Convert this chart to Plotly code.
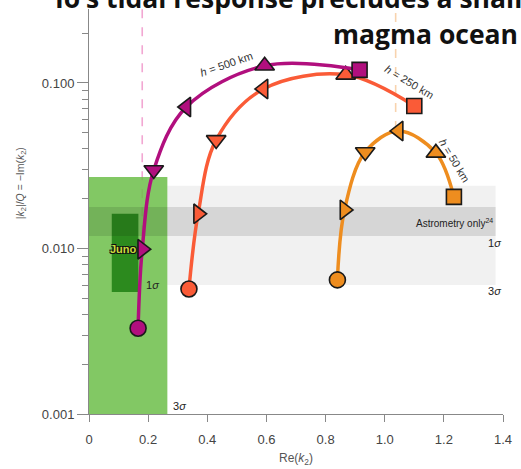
import math
import plotly.graph_objects as go

# ---- data ----
symbols = ["circle", "triangle-right", "triangle-down", "triangle-left", "triangle-up", "square"]

h500_re = [0.166, 0.180, 0.219, 0.329, 0.594, 0.915]
h500_im = [0.0033, 0.0099, 0.0298, 0.0716, 0.127, 0.120]

h250_re = [0.338, 0.369, 0.430, 0.590, 0.868, 1.100]
h250_im = [0.00569, 0.0162, 0.0453, 0.092, 0.112, 0.0726]

h50_re = [0.840, 0.864, 0.934, 1.047, 1.173, 1.234]
h50_im = [0.00646, 0.0171, 0.0383, 0.0513, 0.0378, 0.0205]

# Juno constraints (Re range, Im range)
juno_3s_re = [0.0, 0.265]
juno_3s_im = [0.001, 0.027]
juno_1s_re = [0.077, 0.167]
juno_1s_im = [0.00546, 0.0162]

# astrometry-only constraints (Im range)
astro_3s_im = [0.00602, 0.0239]
astro_1s_im = [0.0119, 0.0178]
astro_re_max = 1.375

# reference lines (Re)
pink_line_re = 0.180
orange_line_re = 1.037

x_ticks = [0, 0.2, 0.4, 0.6, 0.8, 1.0, 1.2, 1.4]
x_ticktext = ["0", "0.2", "0.4", "0.6", "0.8", "1.0", "1.2", "1.4"]
y_ticks = [0.001, 0.01, 0.1]
y_ticktext = ["0.001", "0.010", "0.100"]
y_minor = [m * 10 ** e for e in (-3, -2, -1) for m in range(2, 10)]

C500 = "#B10F7E"
C250 = "#FA5B37"
C50 = "#EE8D1F"

fig = go.Figure()

shapes = []
# dashed reference lines (under green)
shapes.append(dict(type="line", xref="x", yref="y", x0=pink_line_re, x1=pink_line_re,
                   y0=0.0095, y1=0.28, line=dict(color="#F2A7D2", width=1.6, dash="dash"), layer="below"))
shapes.append(dict(type="line", xref="x", yref="y", x0=orange_line_re, x1=orange_line_re,
                   y0=0.052, y1=0.28, line=dict(color="#F8D3AE", width=1.6, dash="dash"), layer="below"))
# Juno boxes
shapes.append(dict(type="rect", xref="x", yref="y", x0=juno_3s_re[0], x1=juno_3s_re[1],
                   y0=juno_3s_im[0], y1=juno_3s_im[1], fillcolor="rgba(108,190,73,0.85)",
                   line=dict(width=0), layer="below"))
shapes.append(dict(type="rect", xref="x", yref="y", x0=juno_1s_re[0], x1=juno_1s_re[1],
                   y0=juno_1s_im[0], y1=juno_1s_im[1], fillcolor="#2C8A1E",
                   line=dict(width=0), layer="below"))
# astrometry bands
shapes.append(dict(type="rect", xref="x", yref="y", x0=juno_3s_re[1], x1=astro_re_max,
                   y0=astro_3s_im[0], y1=astro_3s_im[1], fillcolor="rgba(0,0,0,0.055)",
                   line=dict(width=0), layer="below"))
shapes.append(dict(type="rect", xref="x", yref="y", x0=0, x1=astro_re_max,
                   y0=astro_1s_im[0], y1=astro_1s_im[1], fillcolor="rgba(0,0,0,0.11)",
                   line=dict(width=0), layer="below"))

for xs, ys, col in [(h50_re, h50_im, C50), (h250_re, h250_im, C250), (h500_re, h500_im, C500)]:
    fig.add_trace(go.Scatter(x=xs, y=ys, mode="lines", line=dict(color=col, width=3.5, shape="spline", smoothing=1.0),
                             hoverinfo="skip", showlegend=False))
    sizes = [16 if s == "circle" else (15 if s == "square" else 17) for s in symbols]
    fig.add_trace(go.Scatter(x=xs, y=ys, mode="markers",
                             marker=dict(symbol=symbols, size=sizes, color=col, opacity=1,
                                         line=dict(color="#1a1a1a", width=1.6)),
                             hoverinfo="skip", showlegend=False))

L = math.log10
ann = []
lab = dict(family="Liberation Sans", size=11, color="#333")
sig = dict(family="Liberation Sans", size=11, color="#222")
ann.append(dict(x=0.465, y=-0.885, xref="x", yref="y", text="<i>h</i> = 500 km", textangle=-19,
                showarrow=False, font=lab))
ann.append(dict(x=1.084, y=-0.994, xref="x", yref="y", text="<i>h</i> = 250 km", textangle=31,
                showarrow=False, font=lab))
ann.append(dict(x=1.237, y=-1.471, xref="x", yref="y", text="<i>h</i> = 50 km", textangle=59,
                showarrow=False, font=lab))
ann.append(dict(x=0.115, y=L(0.0099), xref="x", yref="y", text="<b>Juno</b>", showarrow=False,
                font=dict(family="Liberation Sans", size=11, color="#C9DB3C",
                          shadow="1px 1px 0 #111, -1px -1px 0 #111, 1px -1px 0 #111, -1px 1px 0 #111")))
ann.append(dict(x=0.216, y=L(0.00603), xref="x", yref="y", text="1<i>σ</i>", showarrow=False, font=sig))
ann.append(dict(x=0.305, y=L(0.00112), xref="x", yref="y", text="3<i>σ</i>", showarrow=False, font=sig))
ann.append(dict(x=1.372, y=L(0.01426), xref="x", yref="y", text="Astrometry only<sup>24</sup>",
                xanchor="right", showarrow=False, font=dict(family="Liberation Sans", size=10, color="#222")))
ann.append(dict(x=(510 - 89) / 421, y=(414 - 243) / 405, xref="paper", yref="paper", text="1<i>σ</i>",
                xanchor="right", yanchor="middle", showarrow=False, font=sig))
ann.append(dict(x=(510 - 89) / 421, y=(414 - 291) / 405, xref="paper", yref="paper", text="3<i>σ</i>",
                xanchor="right", yanchor="middle", showarrow=False, font=sig))
# axis titles
ann.append(dict(x=(20 - 89) / 421, y=(414 - 183) / 405, xref="paper", yref="paper",
                xanchor="center", yanchor="middle",
                text="|<i>k</i><sub>2</sub>|/<i>Q</i> = −Im(<i>k</i><sub>2</sub>)", textangle=-90,
                showarrow=False, font=dict(family="Liberation Sans", size=10.5, color="#555")))
ann.append(dict(x=(300 - 89) / 421, y=(414 - 459) / 405, xref="paper", yref="paper",
                xanchor="center", yanchor="middle", text="Re(<i>k</i><sub>2</sub>)",
                showarrow=False, font=dict(family="Liberation Sans", size=12, color="#555")))
# slide title overlapping the chart
tfont = dict(family="Open Sans", size=26.5, color="#111", weight="bold")
ann.append(dict(x=(52 - 89) / 421, y=(414 + 2) / 405, xref="paper", yref="paper", xanchor="left",
                yanchor="middle", text="<b>Io’s tidal response precludes a shallow</b>", showarrow=False, font=tfont))
ann.append(dict(x=(527 - 89) / 421, y=(414 - 34) / 405, xref="paper", yref="paper", xanchor="right",
                yanchor="middle", text="<b>magma ocean</b>", showarrow=False, font=tfont))

fig.update_layout(
    width=521, height=469,
    margin=dict(l=89, r=11, t=9, b=55),
    paper_bgcolor="white", plot_bgcolor="white",
    shapes=shapes, annotations=ann,
    xaxis=dict(range=[0, 1.4], tickvals=x_ticks, ticktext=x_ticktext, ticks="outside", ticklen=7,
               tickcolor="#888", showline=True, linecolor="#888", showgrid=False, zeroline=False,
               ticklabelstandoff=6,
               tickfont=dict(family="Liberation Sans", size=13, color="#444")),
    yaxis=dict(type="log", range=[-3, -0.553], tickvals=y_ticks, ticktext=y_ticktext, ticks="outside",
               ticklen=11, tickcolor="#888", showline=True, linecolor="#888", showgrid=False, zeroline=False,
               tickfont=dict(family="Liberation Sans", size=13, color="#444"),
               minor=dict(tickvals=y_minor, ticks="outside", ticklen=6, tickcolor="#888", showgrid=False)),
)

fig.write_html("out.html", config={"displayModeBar": False},
               post_script="document.body.style.margin='0';")
